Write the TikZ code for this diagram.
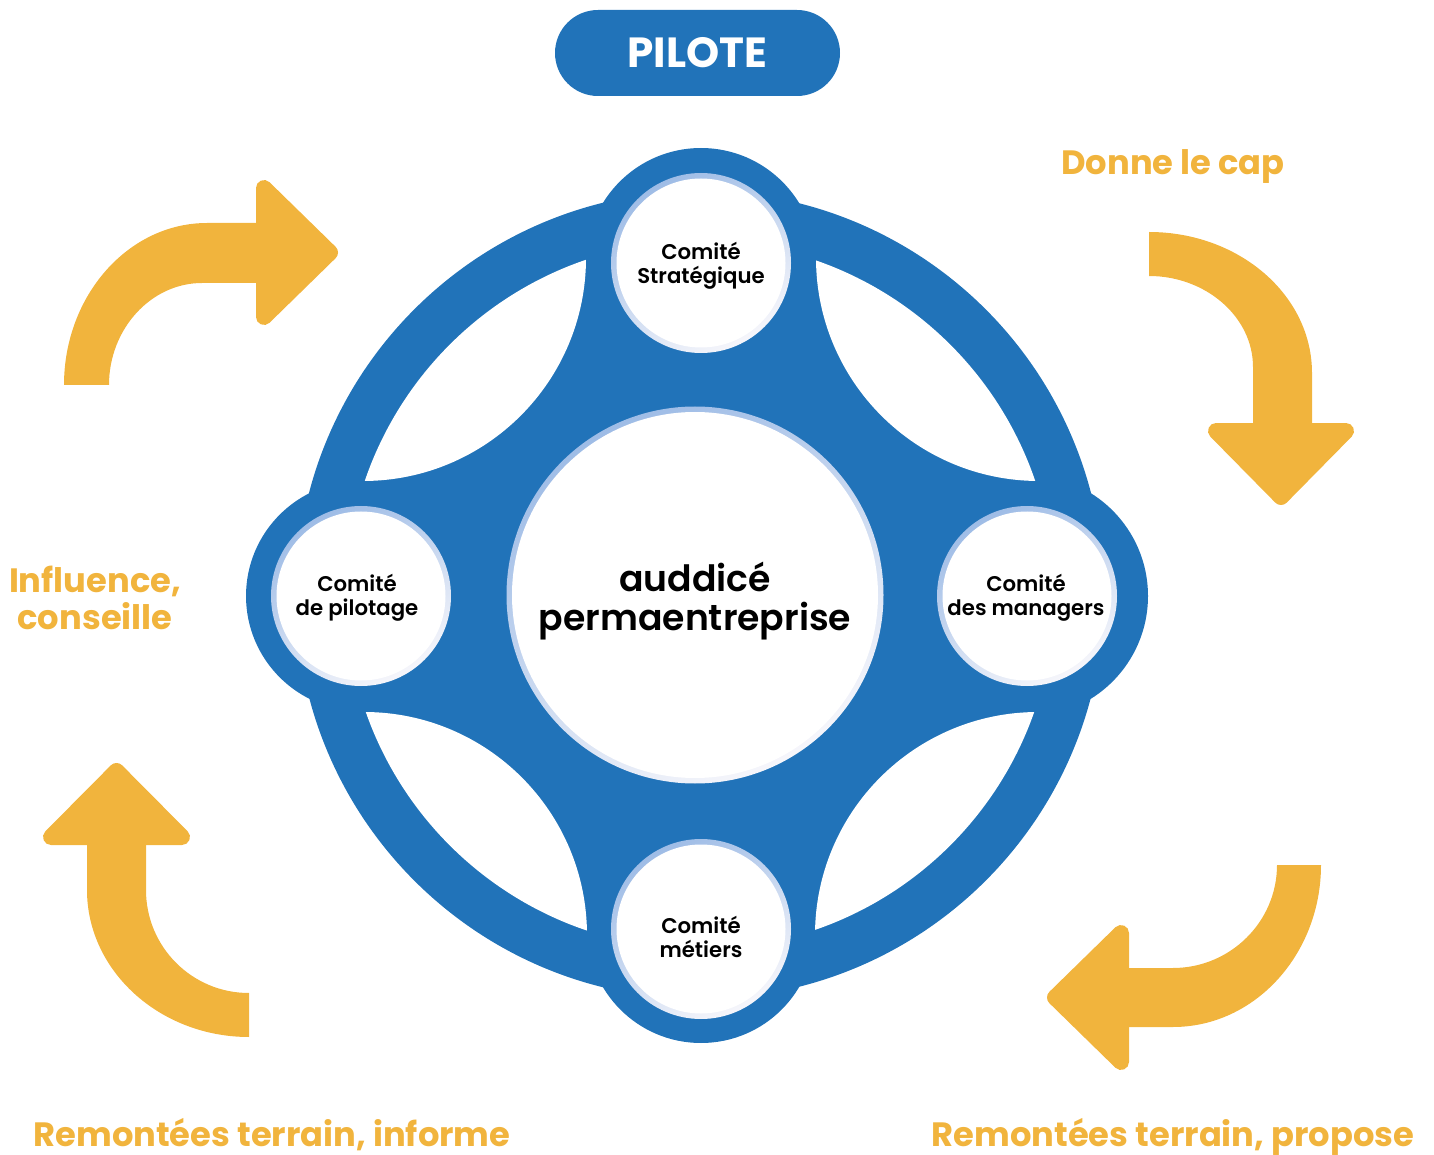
\documentclass[tikz,border=0pt]{standalone}
\usepackage{fontspec}
\setmainfont{Poppins}
\newfontfamily\popsemi{Poppins}[UprightFont=* SemiBold]
\definecolor{bleu}{RGB}{33,115,185}
\definecolor{arrowor}{RGB}{241,180,61}
\definecolor{ringtop}{RGB}{158,188,230}
\definecolor{ringbot}{RGB}{246,246,251}
\tikzset{
  ringshade/.style={top color=ringtop, bottom color=ringbot, shading angle=30},
  headtip/.style={fill=arrowor, draw=arrowor, line width=0.32cm, line join=round},
  nodetxt/.style={align=center, font=\fontsize{12.1}{13.6}\selectfont\popsemi, text=black},
  bigtxt/.style={align=center, font=\fontsize{20.6}{22.7}\selectfont\popsemi, text=black},
  ortxt/.style={align=center, font=\fontsize{19.2}{21.5}\selectfont\bfseries, text=arrowor},
}
\begin{document}
\begin{tikzpicture}[x=0.02cm,y=-0.02cm]
\useasboundingbox (0,0) rectangle (1434,1155);
% pill
\fill[bleu, rounded corners=0.86cm] (555,10) rectangle (840,96);
\node[anchor=base, text=white, font=\fontsize{24}{26}\selectfont\bfseries] (pilote) at (697.5,68) {PILOTE};
% blue structure
\fill[bleu] (700,595) circle (404);
\foreach \p/\r in {(701,263)/115,(361,596)/115,(1027,596)/121,(701,929)/114} \fill[bleu] \p circle (\r);
\begin{scope}
  \clip (700,595) circle (354);
  \foreach \c in {(363,258),(1039,258),(364,935),(1038,935)} \fill[white] \c circle (223);
\end{scope}
% white circles
\foreach \p in {(701,263),(361,596),(1027,596),(701,929)} {
  \shade[ringshade] \p circle (90);
  \fill[white] \p circle (84.5);
}
\shade[ringshade] (695,595) circle (188.5);
\fill[white] (695,595) circle (183);
% texts in circles
\node[nodetxt] (strat) at (701,266) {Comité\\Stratégique};
\node[nodetxt] (pilot) at (357,598) {Comité\\de pilotage};
\node[nodetxt] (manag) at (1026,598) {Comité\\des managers};
\node[nodetxt] (metie) at (701,937) {Comité\\métiers};
\node[bigtxt] (centre) at (695,601) {auddicé\\permaentreprise};
% arrows
\fill[arrowor] (64,385) .. controls (64,296) and (128,223) .. (207,223) -- (262,223) -- (262,283) -- (202,283) .. controls (151,283) and (109,329) .. (109,385) -- cycle;
\filldraw[headtip] (264,188) -- (330,252.5) -- (264,317) -- cycle;
\fill[arrowor] (1149,232) .. controls (1239,232) and (1312,295) .. (1312,373) -- (1312,430) -- (1253,430) -- (1253,367) .. controls (1253,317) and (1206,276) .. (1149,276) -- cycle;
\filldraw[headtip] (1216,431) -- (1346,431) -- (1281,497) -- cycle;
\fill[arrowor] (249,1037) .. controls (160,1037) and (87,971) .. (87,890) -- (87,838) -- (146,838) -- (146,890) .. controls (146,947) and (192,993) .. (249,993) -- cycle;
\filldraw[headtip] (51,837) -- (116.5,771) -- (182,837) -- cycle;
\fill[arrowor] (1321,865) .. controls (1321,954) and (1255,1027) .. (1173,1027) -- (1122,1027) -- (1122,968) -- (1173,968) .. controls (1230,968) and (1277,922) .. (1277,865) -- cycle;
\filldraw[headtip] (1121,933) -- (1121,1062) -- (1055,997.5) -- cycle;
% orange labels
\node[ortxt, anchor=base] (cap) at (1173,175) {Donne le cap};
\node[ortxt] (infl) at (95,598) {Influence,\\conseille};
\node[ortxt, anchor=base] (inform) at (272,1146) {Remontées terrain, informe};
\node[ortxt, anchor=base] (propose) at (1173,1146) {Remontées terrain, propose};
\end{tikzpicture}
\end{document}
